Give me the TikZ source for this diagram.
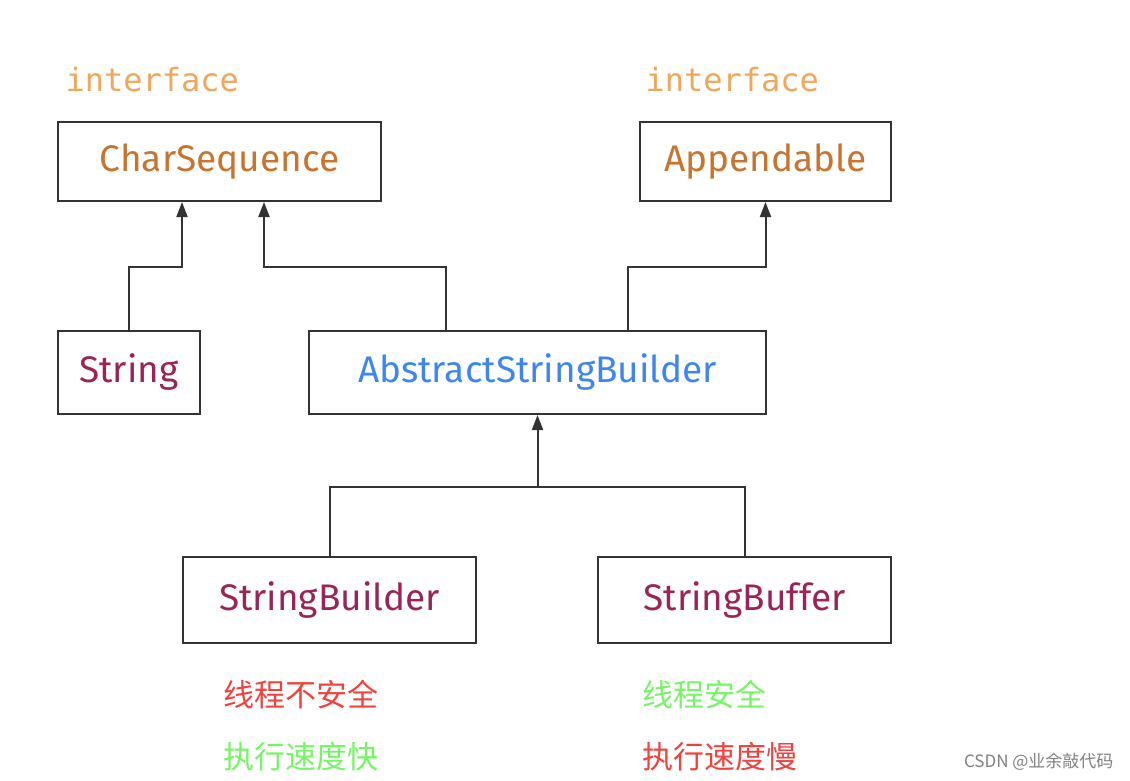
\documentclass[tikz,border=0pt]{standalone}
\usepackage{fontspec}
\setmainfont{Fira Sans}
\setmonofont{DejaVu Sans Mono}
\newfontfamily\cjk{Noto Sans CJK SC}
\usetikzlibrary{arrows.meta,calc}
\definecolor{ifcolor}{HTML}{F2A65A}
\definecolor{cscolor}{HTML}{C8742E}
\definecolor{strcolor}{HTML}{9A2457}
\definecolor{asbcolor}{HTML}{3D86F2}
\definecolor{redtxt}{HTML}{F2403C}
\definecolor{greentxt}{HTML}{74F564}
\definecolor{boxline}{HTML}{333333}
\tikzset{
  classbox/.style={draw=boxline,line width=2pt,inner sep=0pt,
    font=\fontsize{37}{44}\selectfont},
  inh/.style={draw=boxline,line width=2pt,-{Triangle[width=11pt,length=15pt]}},
  iflabel/.style={anchor=west,text=ifcolor,font=\ttfamily\fontsize{32}{38}\selectfont},
  note/.style={anchor=west,font=\cjk\fontsize{31}{37}\selectfont},
}
\begin{document}
\begin{tikzpicture}[x=1pt,y=-1pt]
  \useasboundingbox (0,0) rectangle (1130,780);
  % interfaces
  \node[iflabel] (ifcs) at (62,80) {interface};
  \node[iflabel] (ifapp) at (642,80) {interface};
  \node[classbox,minimum width=323pt,minimum height=79pt,text=cscolor] (cs) at (219.5,161.5) {CharSequence};
  \node[classbox,minimum width=251pt,minimum height=79pt,text=cscolor] (app) at (765.5,161.5) {Appendable};
  % middle row
  \node[classbox,minimum width=142pt,minimum height=83pt,text=strcolor] (str) at (129,372.5) {String};
  \node[classbox,minimum width=457pt,minimum height=83pt,text=asbcolor] (asb) at (537.5,372.5) {AbstractStringBuilder};
  % bottom row
  \node[classbox,minimum width=293pt,minimum height=86pt,text=strcolor] (sbd) at (329.5,600) {StringBuilder};
  \node[classbox,minimum width=293pt,minimum height=86pt,text=strcolor] (sbf) at (744.5,600) {StringBuffer};
  % inheritance connectors
  \draw[inh] (str.north) |- ($(cs.south)+(-37.5,65)$) -- ++(0,-65);
  \draw[inh] ($(asb.north)+(-91.5,0)$) |- ($(cs.south)+(44.5,65)$) -- ++(0,-65);
  \draw[inh] ($(asb.north)+(90.5,0)$) |- ($(app.south)+(0,65)$) -- ++(0,-65);
  \coordinate (bus) at ($(asb.south)+(0,72)$);
  \draw[draw=boxline,line width=2pt] (sbd.north) |- (bus) -| (sbf.north);
  \draw[inh] (bus) -- (asb.south);
  % notes
  \node[note,text=redtxt] (n1) at (220,695) {线程不安全};
  \node[note,text=greentxt] (n2) at (220,757) {执行速度快};
  \node[note,text=greentxt] (n3) at (639,695) {线程安全};
  \node[note,text=redtxt] (n4) at (639,757) {执行速度慢};
  \node[anchor=east,text=gray,font=\cjk\fontsize{17}{20}\selectfont] (wm) at (1117,762) {CSDN @业余敲代码};
\end{tikzpicture}
\end{document}
